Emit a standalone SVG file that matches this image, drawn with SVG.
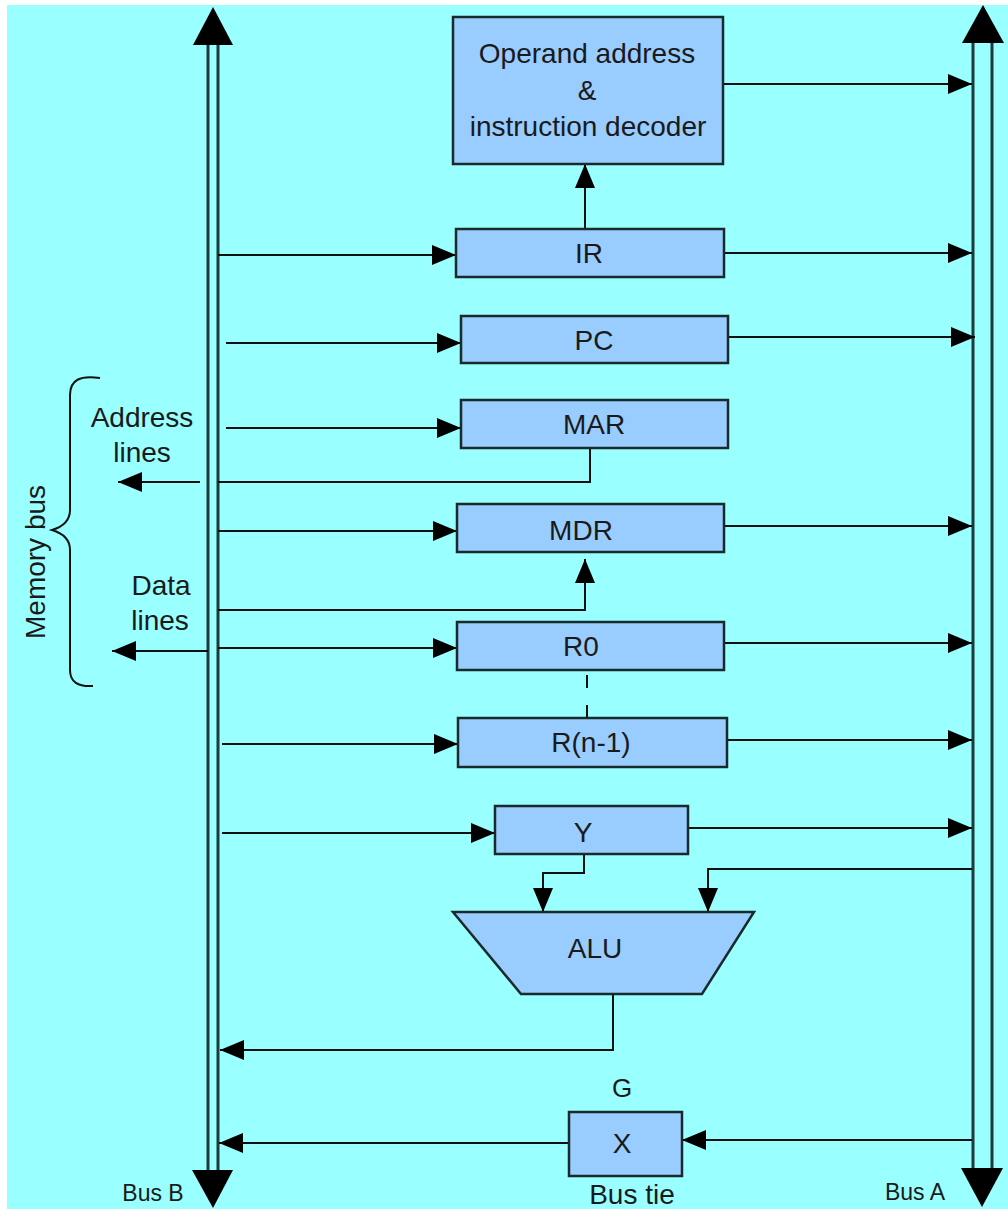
<svg xmlns="http://www.w3.org/2000/svg" width="1008" height="1209" viewBox="0 0 1008 1209">
<style>
.bg{fill:#99FFFF}
.box{fill:#99CCFF;stroke:#1a2a2a;stroke-width:2.5}
.bus{fill:none;stroke:#1f3a3a;stroke-width:3}
.ln{fill:none;stroke:#111;stroke-width:2}
.ah{fill:#000}
.t{font-family:"Liberation Sans",Arial,sans-serif;font-size:28px;fill:#1a1a1a;text-anchor:middle}
.s{font-family:"Liberation Sans",Arial,sans-serif;font-size:23px;fill:#1a1a1a;text-anchor:middle}
</style>
<defs>
<marker id="arr" markerUnits="userSpaceOnUse" markerWidth="24" markerHeight="20" refX="24" refY="10" orient="auto" viewBox="0 0 24 20">
<path d="M0,0 L24,10 L0,20 z" fill="#000"/>
</marker>
</defs>
<rect x="0" y="0" width="1008" height="1209" fill="#fff"/>
<rect class="bg" x="7" y="5" width="1001" height="1204"/>

<g id="busB">
<line class="bus" x1="208" y1="44" x2="208" y2="1171"/>
<line class="bus" x1="218" y1="44" x2="218" y2="1171"/>
<polygon class="ah" points="193,45 233,45 213,7"/>
<polygon class="ah" points="192,1170 233,1170 213,1208"/>
<text class="s" x="153" y="1201">Bus B</text>
</g>
<g id="busA">
<line class="bus" x1="973" y1="42" x2="973" y2="1169"/>
<line class="bus" x1="992" y1="42" x2="992" y2="1169"/>
<polygon class="ah" points="962,43 1004,43 983,5"/>
<polygon class="ah" points="961,1168 1003,1168 982,1207"/>
<text class="s" x="915" y="1200">Bus A</text>
</g>

<g id="connectors">
<line class="ln" x1="723" y1="84" x2="972" y2="84" marker-end="url(#arr)"/>
<line class="ln" x1="585" y1="229" x2="585" y2="164" marker-end="url(#arr)"/>
<line class="ln" x1="218" y1="255" x2="456" y2="255" marker-end="url(#arr)"/>
<line class="ln" x1="724" y1="253" x2="972" y2="253" marker-end="url(#arr)"/>
<line class="ln" x1="226" y1="343" x2="461" y2="343" marker-end="url(#arr)"/>
<line class="ln" x1="728" y1="337" x2="975" y2="337" marker-end="url(#arr)"/>
<line class="ln" x1="226" y1="428" x2="461" y2="428" marker-end="url(#arr)"/>
<polyline class="ln" points="590,448 590,482 218,482"/>
<line class="ln" x1="200" y1="482" x2="118" y2="482" marker-end="url(#arr)"/>
<line class="ln" x1="218" y1="531" x2="457" y2="531" marker-end="url(#arr)"/>
<line class="ln" x1="724" y1="526" x2="972" y2="526" marker-end="url(#arr)"/>
<polyline class="ln" points="218,610 585,610 585,559" marker-end="url(#arr)"/>
<line class="ln" x1="208" y1="651" x2="112" y2="651" marker-end="url(#arr)"/>
<line class="ln" x1="218" y1="648" x2="457" y2="648" marker-end="url(#arr)"/>
<line class="ln" x1="724" y1="643" x2="972" y2="643" marker-end="url(#arr)"/>
<line class="ln" x1="587" y1="675" x2="587" y2="718" stroke-dasharray="13 17"/>
<line class="ln" x1="222" y1="744" x2="458" y2="744" marker-end="url(#arr)"/>
<line class="ln" x1="727" y1="740" x2="972" y2="740" marker-end="url(#arr)"/>
<line class="ln" x1="222" y1="833" x2="495" y2="833" marker-end="url(#arr)"/>
<line class="ln" x1="688" y1="828" x2="972" y2="828" marker-end="url(#arr)"/>
<polyline class="ln" points="584,854 584,873 543,873 543,912" marker-end="url(#arr)"/>
<polyline class="ln" points="972,869 708,869 708,912" marker-end="url(#arr)"/>
<polyline class="ln" points="613,994 613,1050 220,1050" marker-end="url(#arr)"/>
<line class="ln" x1="972" y1="1140" x2="682" y2="1140" marker-end="url(#arr)"/>
<line class="ln" x1="569" y1="1143" x2="219" y2="1143" marker-end="url(#arr)"/>
</g>

<g id="memorybus">
<path class="ln" d="M100,378 C80,375 70,380 70,395 L70,510 C70,522 62,527 52,530 C62,533 70,538 70,550 L70,670 C70,682 78,687 93,686"/>
<text class="t" transform="translate(45,562) rotate(-90)" x="0" y="0">Memory bus</text>
<text class="t" x="142" y="427">Address</text>
<text class="t" x="142" y="462">lines</text>
<text class="t" x="161" y="595">Data</text>
<text class="t" x="160" y="630">lines</text>
</g>

<g id="decoder">
<rect class="box" x="453" y="17" width="270" height="147"/>
<text class="t" x="587" y="63">Operand address</text>
<text class="t" x="587" y="100">&amp;</text>
<text class="t" x="588" y="136">instruction decoder</text>
</g>
<g id="IR">
<rect class="box" x="456" y="229" width="268" height="48"/>
<text class="t" x="589" y="263">IR</text>
</g>
<g id="PC">
<rect class="box" x="461" y="316" width="267" height="47"/>
<text class="t" x="594" y="350">PC</text>
</g>
<g id="MAR">
<rect class="box" x="461" y="400" width="267" height="48"/>
<text class="t" x="594" y="434">MAR</text>
</g>
<g id="MDR">
<rect class="box" x="457" y="504" width="267" height="48"/>
<text class="t" x="581" y="540">MDR</text>
</g>
<g id="R0">
<rect class="box" x="457" y="622" width="267" height="48"/>
<text class="t" x="581" y="656">R0</text>
</g>
<g id="Rn1">
<rect class="box" x="458" y="718" width="269" height="49"/>
<text class="t" x="591" y="752">R(n-1)</text>
</g>
<g id="Y">
<rect class="box" x="495" y="806" width="193" height="48"/>
<text class="t" x="583" y="842">Y</text>
</g>
<g id="ALU">
<polygon class="box" points="453,912 754,912 702,994 521,994"/>
<text class="t" x="595" y="958">ALU</text>
</g>
<g id="X">
<text class="t" x="622" y="1097" style="font-size:26px">G</text>
<rect class="box" x="569" y="1112" width="113" height="64"/>
<text class="t" x="622" y="1153">X</text>
<text class="t" x="632" y="1204">Bus tie</text>
</g>
</svg>
